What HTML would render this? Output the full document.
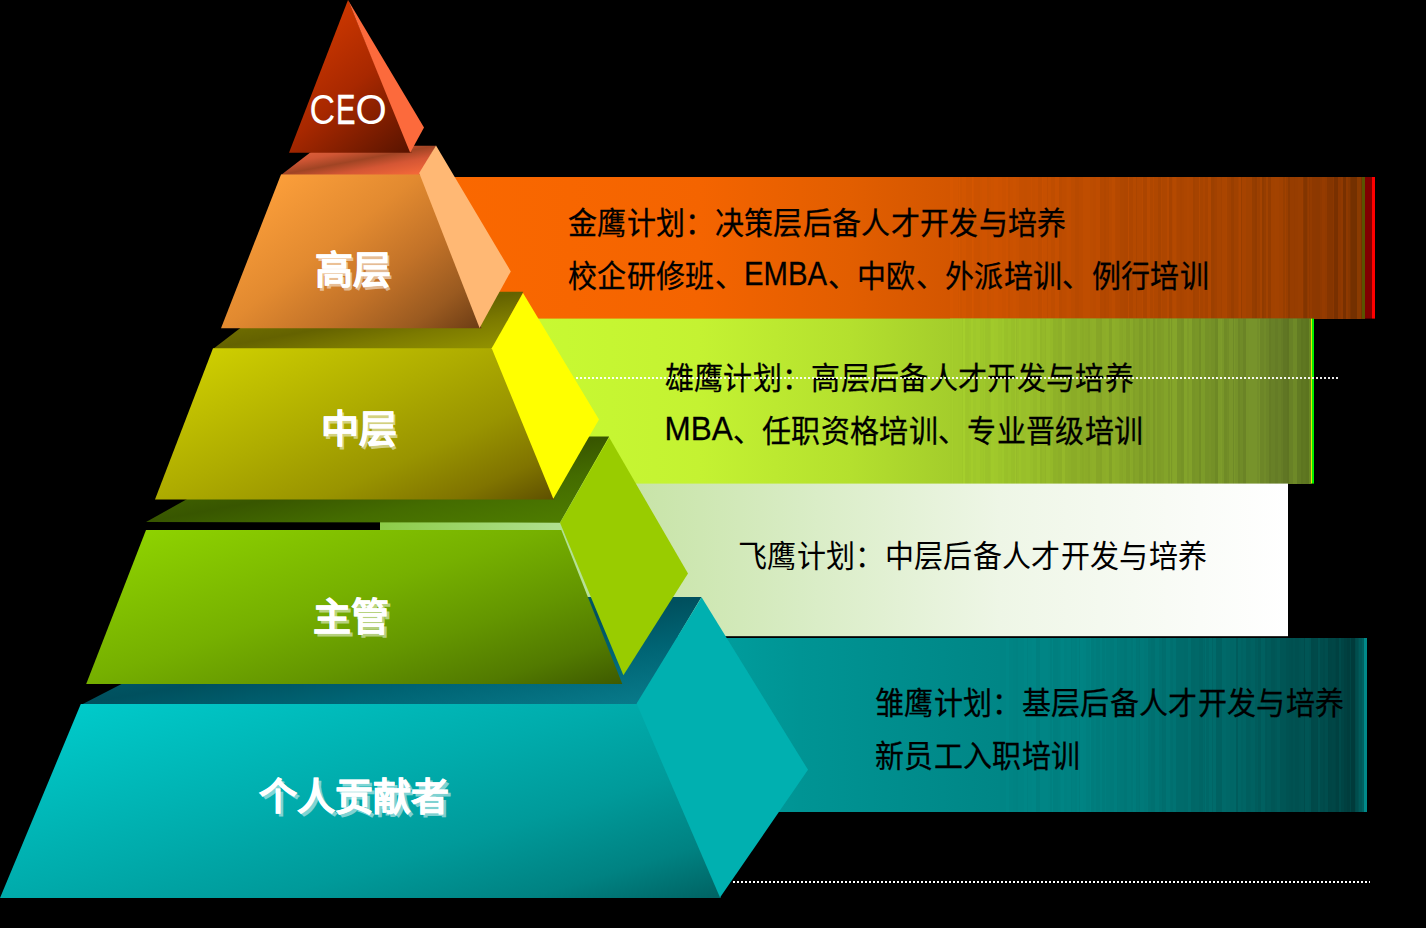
<!DOCTYPE html>
<html lang="zh-CN">
<head>
<meta charset="utf-8">
<style>
html,body{margin:0;padding:0;background:#000;}
body{width:1426px;height:928px;overflow:hidden;position:relative;font-family:"Liberation Sans",sans-serif;}
svg{position:absolute;left:0;top:0;}
.t{position:absolute;white-space:nowrap;color:#000;font-size:29px;line-height:1;letter-spacing:0.34px;-webkit-text-stroke:0.25px #000;transform:scaleY(1.04);transform-origin:0 50%;}
.lo{display:inline-block;position:relative;top:-2px;line-height:0;}
.li{display:inline-block;font-size:31.5px;line-height:0;letter-spacing:0;transform-origin:0 100%;}
.lbl{position:absolute;white-space:nowrap;color:#fff;font-weight:bold;font-size:38px;line-height:1;text-shadow:2.6px 2.6px 0 rgba(255,255,255,0.5);-webkit-text-stroke:0.5px #fff;}
</style>
</head>
<body>
<svg width="1426" height="928" viewBox="0 0 1426 928">
<defs>
<linearGradient id="gOr" gradientUnits="userSpaceOnUse" x1="440" y1="0" x2="1375" y2="0"><stop offset="0.0000" stop-color="#fa6800"/><stop offset="0.2781" stop-color="#f46400"/><stop offset="0.4385" stop-color="#e25e00"/><stop offset="0.5989" stop-color="#cc5200"/><stop offset="0.7059" stop-color="#b84a00"/><stop offset="0.8128" stop-color="#a84400"/><stop offset="0.8984" stop-color="#983e00"/><stop offset="0.9626" stop-color="#843400"/><stop offset="0.9861" stop-color="#7a3400"/></linearGradient>
<linearGradient id="gGr" gradientUnits="userSpaceOnUse" x1="520" y1="0" x2="1314" y2="0"><stop offset="0.0000" stop-color="#c8fa32"/><stop offset="0.2267" stop-color="#c4f232"/><stop offset="0.4156" stop-color="#b4e02e"/><stop offset="0.6045" stop-color="#9cc42a"/><stop offset="0.7305" stop-color="#8aaa28"/><stop offset="0.8564" stop-color="#7a9828"/><stop offset="0.9572" stop-color="#6a8228"/><stop offset="0.9962" stop-color="#607a20"/></linearGradient>
<linearGradient id="gWh" gradientUnits="userSpaceOnUse" x1="380" y1="0" x2="1288" y2="0"><stop offset="0.0000" stop-color="#8ccc48"/><stop offset="0.1982" stop-color="#b0e090"/><stop offset="0.2863" stop-color="#c8e4a8"/><stop offset="0.4626" stop-color="#d8ecc4"/><stop offset="0.6828" stop-color="#eef6e6"/><stop offset="0.9031" stop-color="#fafcf8"/><stop offset="1.0000" stop-color="#ffffff"/></linearGradient>
<linearGradient id="gTe" gradientUnits="userSpaceOnUse" x1="620" y1="0" x2="1367" y2="0"><stop offset="0.0000" stop-color="#00a8a8"/><stop offset="0.2410" stop-color="#009494"/><stop offset="0.5087" stop-color="#008686"/><stop offset="0.6426" stop-color="#007e7e"/><stop offset="0.7764" stop-color="#006a6a"/><stop offset="0.8835" stop-color="#005858"/><stop offset="0.9639" stop-color="#004646"/><stop offset="0.9826" stop-color="#004040"/><stop offset="0.9933" stop-color="#005c5c"/></linearGradient>
<linearGradient id="gCeo" gradientUnits="userSpaceOnUse" x1="300" y1="20" x2="410" y2="150"><stop offset="0" stop-color="#d23a00"/><stop offset="0.5" stop-color="#a82800"/><stop offset="1" stop-color="#5a1400"/></linearGradient>
<linearGradient id="gT1" gradientUnits="userSpaceOnUse" x1="353.89" y1="135.31" x2="363.11" y2="184.89"><stop offset="0" stop-color="#ea6640"/><stop offset="0.3" stop-color="#d05634"/><stop offset="0.5" stop-color="#a04424"/><stop offset="0.7" stop-color="#d45634"/><stop offset="1" stop-color="#f66a3a"/></linearGradient>
<linearGradient id="gT2" gradientUnits="userSpaceOnUse" x1="359.1" y1="270.69" x2="377.2" y2="369.51"><stop offset="0" stop-color="#7e7c00"/><stop offset="0.3" stop-color="#706e00"/><stop offset="0.5" stop-color="#646200"/><stop offset="0.72" stop-color="#7c7a00"/><stop offset="1" stop-color="#929200"/></linearGradient>
<linearGradient id="gT3" gradientUnits="userSpaceOnUse" x1="363.85" y1="405.32" x2="391.15" y2="553.18"><stop offset="0" stop-color="#4c7400"/><stop offset="0.3" stop-color="#426400"/><stop offset="0.5" stop-color="#385600"/><stop offset="0.72" stop-color="#446c00"/><stop offset="1" stop-color="#4e7c00"/></linearGradient>
<linearGradient id="gT4" gradientUnits="userSpaceOnUse" x1="375.1" y1="557.39" x2="407.2" y2="743.61"><stop offset="0" stop-color="#006876"/><stop offset="0.3" stop-color="#005c6a"/><stop offset="0.5" stop-color="#00505e"/><stop offset="0.72" stop-color="#006474"/><stop offset="1" stop-color="#087a8a"/></linearGradient>
<linearGradient id="gF1" gradientUnits="userSpaceOnUse" x1="281" y1="174.5" x2="430.28" y2="367.27"><stop offset="0" stop-color="#fb9e3a"/><stop offset="0.35" stop-color="#e28a30"/><stop offset="0.6" stop-color="#c27228"/><stop offset="0.82" stop-color="#9a5a20"/><stop offset="1" stop-color="#6c3c14"/></linearGradient>
<linearGradient id="gF2" gradientUnits="userSpaceOnUse" x1="213" y1="348.2" x2="326.62" y2="601.43"><stop offset="0" stop-color="#cece00"/><stop offset="0.4" stop-color="#aeac00"/><stop offset="0.65" stop-color="#999400"/><stop offset="0.85" stop-color="#807400"/><stop offset="1" stop-color="#5e5000"/></linearGradient>
<linearGradient id="gF3" gradientUnits="userSpaceOnUse" x1="146" y1="530" x2="236.46" y2="809.07"><stop offset="0" stop-color="#8ed200"/><stop offset="0.42" stop-color="#76b000"/><stop offset="0.65" stop-color="#649600"/><stop offset="0.85" stop-color="#527a00"/><stop offset="1" stop-color="#3e5a00"/></linearGradient>
<linearGradient id="gF4" gradientUnits="userSpaceOnUse" x1="80.8" y1="704" x2="188.99" y2="1059.57"><stop offset="0" stop-color="#00caca"/><stop offset="0.42" stop-color="#00acac"/><stop offset="0.65" stop-color="#009a9a"/><stop offset="0.85" stop-color="#008282"/><stop offset="1" stop-color="#006262"/></linearGradient>
</defs>
<rect x="440" y="177" width="925" height="142" fill="url(#gOr)"/>
<rect x="950" y="177" width="3" height="142" fill="#d75700"/>
<rect x="953" y="177" width="4" height="142" fill="#d45600"/>
<rect x="957" y="177" width="1" height="142" fill="#d55600"/>
<rect x="958" y="177" width="1" height="142" fill="#d15500"/>
<rect x="959" y="177" width="1" height="142" fill="#d55700"/>
<rect x="960" y="177" width="2" height="142" fill="#ce5400"/>
<rect x="962" y="177" width="4" height="142" fill="#d15500"/>
<rect x="966" y="177" width="2" height="142" fill="#cd5300"/>
<rect x="968" y="177" width="4" height="142" fill="#cd5300"/>
<rect x="972" y="177" width="1" height="142" fill="#d45600"/>
<rect x="973" y="177" width="1" height="142" fill="#d15400"/>
<rect x="974" y="177" width="4" height="142" fill="#cc5200"/>
<rect x="978" y="177" width="2" height="142" fill="#cb5200"/>
<rect x="980" y="177" width="2" height="142" fill="#cd5300"/>
<rect x="982" y="177" width="2" height="142" fill="#cf5300"/>
<rect x="984" y="177" width="3" height="142" fill="#cf5300"/>
<rect x="987" y="177" width="2" height="142" fill="#ca5200"/>
<rect x="989" y="177" width="2" height="142" fill="#cc5200"/>
<rect x="991" y="177" width="1" height="142" fill="#ce5300"/>
<rect x="992" y="177" width="2" height="142" fill="#cd5300"/>
<rect x="994" y="177" width="4" height="142" fill="#cf5300"/>
<rect x="998" y="177" width="4" height="142" fill="#cd5200"/>
<rect x="1002" y="177" width="4" height="142" fill="#ca5100"/>
<rect x="1006" y="177" width="2" height="142" fill="#cd5200"/>
<rect x="1008" y="177" width="2" height="142" fill="#c65000"/>
<rect x="1010" y="177" width="3" height="142" fill="#ca5100"/>
<rect x="1013" y="177" width="3" height="142" fill="#cb5200"/>
<rect x="1016" y="177" width="3" height="142" fill="#c95100"/>
<rect x="1019" y="177" width="1" height="142" fill="#c54f00"/>
<rect x="1020" y="177" width="4" height="142" fill="#c54f00"/>
<rect x="1024" y="177" width="3" height="142" fill="#c44f00"/>
<rect x="1027" y="177" width="4" height="142" fill="#c54f00"/>
<rect x="1031" y="177" width="1" height="142" fill="#c85000"/>
<rect x="1032" y="177" width="3" height="142" fill="#c44f00"/>
<rect x="1035" y="177" width="3" height="142" fill="#c64f00"/>
<rect x="1038" y="177" width="4" height="142" fill="#c04d00"/>
<rect x="1042" y="177" width="1" height="142" fill="#c85000"/>
<rect x="1043" y="177" width="4" height="142" fill="#c54f00"/>
<rect x="1047" y="177" width="1" height="142" fill="#be4c00"/>
<rect x="1048" y="177" width="3" height="142" fill="#c44f00"/>
<rect x="1051" y="177" width="4" height="142" fill="#bf4d00"/>
<rect x="1055" y="177" width="4" height="142" fill="#c54f00"/>
<rect x="1059" y="177" width="3" height="142" fill="#bb4b00"/>
<rect x="1062" y="177" width="4" height="142" fill="#be4c00"/>
<rect x="1066" y="177" width="1" height="142" fill="#bf4d00"/>
<rect x="1067" y="177" width="2" height="142" fill="#c14e00"/>
<rect x="1069" y="177" width="2" height="142" fill="#c14d00"/>
<rect x="1071" y="177" width="4" height="142" fill="#bc4c00"/>
<rect x="1075" y="177" width="4" height="142" fill="#b84a00"/>
<rect x="1079" y="177" width="4" height="142" fill="#bb4b00"/>
<rect x="1083" y="177" width="3" height="142" fill="#bf4d00"/>
<rect x="1086" y="177" width="4" height="142" fill="#bf4d00"/>
<rect x="1090" y="177" width="3" height="142" fill="#bc4c00"/>
<rect x="1093" y="177" width="3" height="142" fill="#bb4b00"/>
<rect x="1096" y="177" width="4" height="142" fill="#be4c00"/>
<rect x="1100" y="177" width="2" height="142" fill="#b34800"/>
<rect x="1102" y="177" width="2" height="142" fill="#b44800"/>
<rect x="1104" y="177" width="2" height="142" fill="#b14700"/>
<rect x="1106" y="177" width="2" height="142" fill="#b44800"/>
<rect x="1108" y="177" width="1" height="142" fill="#b24800"/>
<rect x="1109" y="177" width="3" height="142" fill="#b84a00"/>
<rect x="1112" y="177" width="3" height="142" fill="#bc4c00"/>
<rect x="1115" y="177" width="1" height="142" fill="#b54900"/>
<rect x="1116" y="177" width="4" height="142" fill="#b44800"/>
<rect x="1120" y="177" width="4" height="142" fill="#af4700"/>
<rect x="1124" y="177" width="4" height="142" fill="#ae4600"/>
<rect x="1128" y="177" width="1" height="142" fill="#ba4b00"/>
<rect x="1129" y="177" width="4" height="142" fill="#ae4600"/>
<rect x="1133" y="177" width="3" height="142" fill="#b44900"/>
<rect x="1136" y="177" width="1" height="142" fill="#ab4500"/>
<rect x="1137" y="177" width="2" height="142" fill="#b24800"/>
<rect x="1139" y="177" width="3" height="142" fill="#b34800"/>
<rect x="1142" y="177" width="1" height="142" fill="#b74a00"/>
<rect x="1143" y="177" width="4" height="142" fill="#ac4500"/>
<rect x="1147" y="177" width="3" height="142" fill="#b74a00"/>
<rect x="1150" y="177" width="3" height="142" fill="#af4700"/>
<rect x="1153" y="177" width="1" height="142" fill="#b54900"/>
<rect x="1154" y="177" width="4" height="142" fill="#af4700"/>
<rect x="1158" y="177" width="3" height="142" fill="#a84400"/>
<rect x="1161" y="177" width="1" height="142" fill="#b24800"/>
<rect x="1162" y="177" width="3" height="142" fill="#ad4600"/>
<rect x="1165" y="177" width="2" height="142" fill="#ae4600"/>
<rect x="1167" y="177" width="2" height="142" fill="#b54900"/>
<rect x="1169" y="177" width="3" height="142" fill="#a74300"/>
<rect x="1172" y="177" width="1" height="142" fill="#b14700"/>
<rect x="1173" y="177" width="3" height="142" fill="#b44900"/>
<rect x="1176" y="177" width="1" height="142" fill="#af4700"/>
<rect x="1177" y="177" width="3" height="142" fill="#ac4500"/>
<rect x="1180" y="177" width="2" height="142" fill="#a94400"/>
<rect x="1182" y="177" width="2" height="142" fill="#ab4500"/>
<rect x="1184" y="177" width="3" height="142" fill="#ad4600"/>
<rect x="1187" y="177" width="2" height="142" fill="#af4700"/>
<rect x="1189" y="177" width="4" height="142" fill="#ae4600"/>
<rect x="1193" y="177" width="2" height="142" fill="#a34200"/>
<rect x="1195" y="177" width="4" height="142" fill="#a64300"/>
<rect x="1199" y="177" width="1" height="142" fill="#b14800"/>
<rect x="1200" y="177" width="3" height="142" fill="#a74400"/>
<rect x="1203" y="177" width="2" height="142" fill="#ab4500"/>
<rect x="1205" y="177" width="3" height="142" fill="#a64300"/>
<rect x="1208" y="177" width="3" height="142" fill="#af4700"/>
<rect x="1211" y="177" width="3" height="142" fill="#9d4000"/>
<rect x="1214" y="177" width="1" height="142" fill="#a04100"/>
<rect x="1215" y="177" width="2" height="142" fill="#a24100"/>
<rect x="1217" y="177" width="4" height="142" fill="#a74400"/>
<rect x="1221" y="177" width="1" height="142" fill="#a34200"/>
<rect x="1222" y="177" width="3" height="142" fill="#aa4500"/>
<rect x="1225" y="177" width="1" height="142" fill="#aa4500"/>
<rect x="1226" y="177" width="1" height="142" fill="#ab4600"/>
<rect x="1227" y="177" width="2" height="142" fill="#a24200"/>
<rect x="1229" y="177" width="2" height="142" fill="#a14100"/>
<rect x="1231" y="177" width="3" height="142" fill="#993e00"/>
<rect x="1234" y="177" width="4" height="142" fill="#a04100"/>
<rect x="1238" y="177" width="1" height="142" fill="#a54300"/>
<rect x="1239" y="177" width="2" height="142" fill="#ab4500"/>
<rect x="1241" y="177" width="1" height="142" fill="#983e00"/>
<rect x="1242" y="177" width="4" height="142" fill="#a64300"/>
<rect x="1246" y="177" width="2" height="142" fill="#a14200"/>
<rect x="1248" y="177" width="4" height="142" fill="#a24200"/>
<rect x="1252" y="177" width="3" height="142" fill="#953d00"/>
<rect x="1255" y="177" width="2" height="142" fill="#923b00"/>
<rect x="1257" y="177" width="1" height="142" fill="#9d4000"/>
<rect x="1258" y="177" width="2" height="142" fill="#9b3f00"/>
<rect x="1260" y="177" width="2" height="142" fill="#a44300"/>
<rect x="1262" y="177" width="2" height="142" fill="#903b00"/>
<rect x="1264" y="177" width="2" height="142" fill="#963d00"/>
<rect x="1266" y="177" width="2" height="142" fill="#a14200"/>
<rect x="1268" y="177" width="3" height="142" fill="#943c00"/>
<rect x="1271" y="177" width="4" height="142" fill="#a24200"/>
<rect x="1275" y="177" width="1" height="142" fill="#a34300"/>
<rect x="1276" y="177" width="3" height="142" fill="#a34200"/>
<rect x="1279" y="177" width="4" height="142" fill="#a04100"/>
<rect x="1283" y="177" width="2" height="142" fill="#973e00"/>
<rect x="1285" y="177" width="1" height="142" fill="#a04100"/>
<rect x="1286" y="177" width="2" height="142" fill="#983e00"/>
<rect x="1288" y="177" width="2" height="142" fill="#8c3900"/>
<rect x="1290" y="177" width="4" height="142" fill="#973d00"/>
<rect x="1294" y="177" width="1" height="142" fill="#953c00"/>
<rect x="1295" y="177" width="3" height="142" fill="#973d00"/>
<rect x="1298" y="177" width="4" height="142" fill="#993e00"/>
<rect x="1302" y="177" width="1" height="142" fill="#9b3e00"/>
<rect x="1303" y="177" width="1" height="142" fill="#893700"/>
<rect x="1304" y="177" width="3" height="142" fill="#833500"/>
<rect x="1307" y="177" width="1" height="142" fill="#8f3a00"/>
<rect x="1308" y="177" width="1" height="142" fill="#963c00"/>
<rect x="1309" y="177" width="1" height="142" fill="#8d3800"/>
<rect x="1310" y="177" width="2" height="142" fill="#933b00"/>
<rect x="1312" y="177" width="4" height="142" fill="#8d3800"/>
<rect x="1316" y="177" width="4" height="142" fill="#8c3800"/>
<rect x="1320" y="177" width="2" height="142" fill="#903900"/>
<rect x="1322" y="177" width="3" height="142" fill="#953b00"/>
<rect x="1325" y="177" width="2" height="142" fill="#923a00"/>
<rect x="1327" y="177" width="2" height="142" fill="#863500"/>
<rect x="1329" y="177" width="4" height="142" fill="#853500"/>
<rect x="1333" y="177" width="1" height="142" fill="#8b3700"/>
<rect x="1334" y="177" width="4" height="142" fill="#793000"/>
<rect x="1338" y="177" width="3" height="142" fill="#8c3700"/>
<rect x="1341" y="177" width="2" height="142" fill="#903900"/>
<rect x="1343" y="177" width="3" height="142" fill="#783000"/>
<rect x="1346" y="177" width="2" height="142" fill="#8e3900"/>
<rect x="1348" y="177" width="2" height="142" fill="#873700"/>
<rect x="1350" y="177" width="1" height="142" fill="#7c3300"/>
<rect x="1351" y="177" width="4" height="142" fill="#743000"/>
<rect x="1355" y="177" width="2" height="142" fill="#733000"/>
<rect x="1357" y="177" width="4" height="142" fill="#8a3a00"/>
<rect x="1361" y="177" width="1" height="142" fill="#763200"/>
<rect x="1362" y="177" width="3" height="141.6" fill="#5a5400"/>
<rect x="1365" y="177" width="7" height="141.6" fill="#800000"/>
<rect x="1372" y="177" width="3" height="141.6" fill="#ff0000"/>
<rect x="520" y="318.6" width="791" height="165.4" fill="url(#gGr)"/>
<rect x="950" y="318.6" width="2" height="165.4" fill="#a3cc2b"/>
<rect x="952" y="318.6" width="1" height="165.4" fill="#a5cf2c"/>
<rect x="953" y="318.6" width="1" height="165.4" fill="#a2cb2b"/>
<rect x="954" y="318.6" width="4" height="165.4" fill="#a3cc2b"/>
<rect x="958" y="318.6" width="1" height="165.4" fill="#a2cb2b"/>
<rect x="959" y="318.6" width="3" height="165.4" fill="#a2cb2b"/>
<rect x="962" y="318.6" width="1" height="165.4" fill="#9fc82a"/>
<rect x="963" y="318.6" width="2" height="165.4" fill="#a5cf2c"/>
<rect x="965" y="318.6" width="1" height="165.4" fill="#9fc72a"/>
<rect x="966" y="318.6" width="3" height="165.4" fill="#9ec62a"/>
<rect x="969" y="318.6" width="2" height="165.4" fill="#9fc82a"/>
<rect x="971" y="318.6" width="2" height="165.4" fill="#a3cc2b"/>
<rect x="973" y="318.6" width="3" height="165.4" fill="#9fc82b"/>
<rect x="976" y="318.6" width="4" height="165.4" fill="#a1ca2b"/>
<rect x="980" y="318.6" width="1" height="165.4" fill="#9ec62a"/>
<rect x="981" y="318.6" width="2" height="165.4" fill="#9ec72a"/>
<rect x="983" y="318.6" width="1" height="165.4" fill="#9dc52a"/>
<rect x="984" y="318.6" width="1" height="165.4" fill="#9fc82b"/>
<rect x="985" y="318.6" width="3" height="165.4" fill="#9bc32a"/>
<rect x="988" y="318.6" width="2" height="165.4" fill="#9bc22a"/>
<rect x="990" y="318.6" width="1" height="165.4" fill="#9dc52a"/>
<rect x="991" y="318.6" width="3" height="165.4" fill="#a1ca2b"/>
<rect x="994" y="318.6" width="4" height="165.4" fill="#a0c82b"/>
<rect x="998" y="318.6" width="3" height="165.4" fill="#9dc52a"/>
<rect x="1001" y="318.6" width="1" height="165.4" fill="#9cc42a"/>
<rect x="1002" y="318.6" width="2" height="165.4" fill="#9ec72b"/>
<rect x="1004" y="318.6" width="2" height="165.4" fill="#99c129"/>
<rect x="1006" y="318.6" width="2" height="165.4" fill="#99c029"/>
<rect x="1008" y="318.6" width="3" height="165.4" fill="#9bc32a"/>
<rect x="1011" y="318.6" width="2" height="165.4" fill="#98bf29"/>
<rect x="1013" y="318.6" width="2" height="165.4" fill="#98be29"/>
<rect x="1015" y="318.6" width="1" height="165.4" fill="#9dc42b"/>
<rect x="1016" y="318.6" width="1" height="165.4" fill="#96bb29"/>
<rect x="1017" y="318.6" width="2" height="165.4" fill="#99bf2a"/>
<rect x="1019" y="318.6" width="2" height="165.4" fill="#9cc32a"/>
<rect x="1021" y="318.6" width="1" height="165.4" fill="#99c02a"/>
<rect x="1022" y="318.6" width="4" height="165.4" fill="#99bf2a"/>
<rect x="1026" y="318.6" width="4" height="165.4" fill="#9ac12a"/>
<rect x="1030" y="318.6" width="3" height="165.4" fill="#98be2a"/>
<rect x="1033" y="318.6" width="2" height="165.4" fill="#95ba29"/>
<rect x="1035" y="318.6" width="2" height="165.4" fill="#95ba29"/>
<rect x="1037" y="318.6" width="3" height="165.4" fill="#99bf2a"/>
<rect x="1040" y="318.6" width="2" height="165.4" fill="#91b528"/>
<rect x="1042" y="318.6" width="3" height="165.4" fill="#94b829"/>
<rect x="1045" y="318.6" width="1" height="165.4" fill="#91b428"/>
<rect x="1046" y="318.6" width="4" height="165.4" fill="#96bb2a"/>
<rect x="1050" y="318.6" width="3" height="165.4" fill="#94b829"/>
<rect x="1053" y="318.6" width="3" height="165.4" fill="#8eb128"/>
<rect x="1056" y="318.6" width="2" height="165.4" fill="#8fb228"/>
<rect x="1058" y="318.6" width="4" height="165.4" fill="#8daf28"/>
<rect x="1062" y="318.6" width="3" height="165.4" fill="#95b82a"/>
<rect x="1065" y="318.6" width="3" height="165.4" fill="#8eb028"/>
<rect x="1068" y="318.6" width="3" height="165.4" fill="#8daf28"/>
<rect x="1071" y="318.6" width="2" height="165.4" fill="#8bac27"/>
<rect x="1073" y="318.6" width="4" height="165.4" fill="#8bac27"/>
<rect x="1077" y="318.6" width="3" height="165.4" fill="#8eb028"/>
<rect x="1080" y="318.6" width="2" height="165.4" fill="#8bac28"/>
<rect x="1082" y="318.6" width="1" height="165.4" fill="#89aa27"/>
<rect x="1083" y="318.6" width="1" height="165.4" fill="#8aaa27"/>
<rect x="1084" y="318.6" width="1" height="165.4" fill="#8cad28"/>
<rect x="1085" y="318.6" width="3" height="165.4" fill="#8bab28"/>
<rect x="1088" y="318.6" width="2" height="165.4" fill="#88a827"/>
<rect x="1090" y="318.6" width="2" height="165.4" fill="#8dae29"/>
<rect x="1092" y="318.6" width="4" height="165.4" fill="#8eaf29"/>
<rect x="1096" y="318.6" width="4" height="165.4" fill="#87a627"/>
<rect x="1100" y="318.6" width="2" height="165.4" fill="#85a427"/>
<rect x="1102" y="318.6" width="4" height="165.4" fill="#8cac29"/>
<rect x="1106" y="318.6" width="2" height="165.4" fill="#8dae29"/>
<rect x="1108" y="318.6" width="1" height="165.4" fill="#8cad29"/>
<rect x="1109" y="318.6" width="2" height="165.4" fill="#84a327"/>
<rect x="1111" y="318.6" width="1" height="165.4" fill="#84a327"/>
<rect x="1112" y="318.6" width="3" height="165.4" fill="#8dae29"/>
<rect x="1115" y="318.6" width="4" height="165.4" fill="#8bac29"/>
<rect x="1119" y="318.6" width="1" height="165.4" fill="#88a828"/>
<rect x="1120" y="318.6" width="2" height="165.4" fill="#87a628"/>
<rect x="1122" y="318.6" width="1" height="165.4" fill="#86a528"/>
<rect x="1123" y="318.6" width="1" height="165.4" fill="#89a929"/>
<rect x="1124" y="318.6" width="1" height="165.4" fill="#88a829"/>
<rect x="1125" y="318.6" width="1" height="165.4" fill="#89a929"/>
<rect x="1126" y="318.6" width="4" height="165.4" fill="#83a127"/>
<rect x="1130" y="318.6" width="1" height="165.4" fill="#89aa29"/>
<rect x="1131" y="318.6" width="2" height="165.4" fill="#88a829"/>
<rect x="1133" y="318.6" width="2" height="165.4" fill="#81a027"/>
<rect x="1135" y="318.6" width="4" height="165.4" fill="#84a328"/>
<rect x="1139" y="318.6" width="4" height="165.4" fill="#7e9c26"/>
<rect x="1143" y="318.6" width="3" height="165.4" fill="#86a629"/>
<rect x="1146" y="318.6" width="2" height="165.4" fill="#7d9b26"/>
<rect x="1148" y="318.6" width="2" height="165.4" fill="#809e27"/>
<rect x="1150" y="318.6" width="3" height="165.4" fill="#83a328"/>
<rect x="1153" y="318.6" width="2" height="165.4" fill="#7b9826"/>
<rect x="1155" y="318.6" width="1" height="165.4" fill="#81a028"/>
<rect x="1156" y="318.6" width="1" height="165.4" fill="#84a329"/>
<rect x="1157" y="318.6" width="4" height="165.4" fill="#7e9c27"/>
<rect x="1161" y="318.6" width="3" height="165.4" fill="#809e28"/>
<rect x="1164" y="318.6" width="4" height="165.4" fill="#83a329"/>
<rect x="1168" y="318.6" width="2" height="165.4" fill="#7c9a27"/>
<rect x="1170" y="318.6" width="1" height="165.4" fill="#85a52a"/>
<rect x="1171" y="318.6" width="1" height="165.4" fill="#7b9927"/>
<rect x="1172" y="318.6" width="1" height="165.4" fill="#83a329"/>
<rect x="1173" y="318.6" width="4" height="165.4" fill="#85a52a"/>
<rect x="1177" y="318.6" width="4" height="165.4" fill="#799627"/>
<rect x="1181" y="318.6" width="2" height="165.4" fill="#769326"/>
<rect x="1183" y="318.6" width="1" height="165.4" fill="#779426"/>
<rect x="1184" y="318.6" width="3" height="165.4" fill="#83a32a"/>
<rect x="1187" y="318.6" width="2" height="165.4" fill="#7e9c29"/>
<rect x="1189" y="318.6" width="3" height="165.4" fill="#82a12a"/>
<rect x="1192" y="318.6" width="3" height="165.4" fill="#779427"/>
<rect x="1195" y="318.6" width="4" height="165.4" fill="#799627"/>
<rect x="1199" y="318.6" width="2" height="165.4" fill="#728e25"/>
<rect x="1201" y="318.6" width="4" height="165.4" fill="#7c9b29"/>
<rect x="1205" y="318.6" width="4" height="165.4" fill="#759227"/>
<rect x="1209" y="318.6" width="2" height="165.4" fill="#779328"/>
<rect x="1211" y="318.6" width="4" height="165.4" fill="#749027"/>
<rect x="1215" y="318.6" width="3" height="165.4" fill="#6e8925"/>
<rect x="1218" y="318.6" width="3" height="165.4" fill="#7c9a2a"/>
<rect x="1221" y="318.6" width="1" height="165.4" fill="#7e9c2b"/>
<rect x="1222" y="318.6" width="2" height="165.4" fill="#799629"/>
<rect x="1224" y="318.6" width="3" height="165.4" fill="#708b26"/>
<rect x="1227" y="318.6" width="1" height="165.4" fill="#738e27"/>
<rect x="1228" y="318.6" width="1" height="165.4" fill="#728d27"/>
<rect x="1229" y="318.6" width="4" height="165.4" fill="#79952a"/>
<rect x="1233" y="318.6" width="1" height="165.4" fill="#6f8a27"/>
<rect x="1234" y="318.6" width="1" height="165.4" fill="#79962a"/>
<rect x="1235" y="318.6" width="3" height="165.4" fill="#759129"/>
<rect x="1238" y="318.6" width="2" height="165.4" fill="#6d8726"/>
<rect x="1240" y="318.6" width="3" height="165.4" fill="#708b28"/>
<rect x="1243" y="318.6" width="3" height="165.4" fill="#6b8426"/>
<rect x="1246" y="318.6" width="3" height="165.4" fill="#76922a"/>
<rect x="1249" y="318.6" width="4" height="165.4" fill="#77932b"/>
<rect x="1253" y="318.6" width="4" height="165.4" fill="#77932b"/>
<rect x="1257" y="318.6" width="2" height="165.4" fill="#738e2a"/>
<rect x="1259" y="318.6" width="1" height="165.4" fill="#77932b"/>
<rect x="1260" y="318.6" width="4" height="165.4" fill="#6d8628"/>
<rect x="1264" y="318.6" width="2" height="165.4" fill="#708a29"/>
<rect x="1266" y="318.6" width="3" height="165.4" fill="#6c8528"/>
<rect x="1269" y="318.6" width="2" height="165.4" fill="#657c25"/>
<rect x="1271" y="318.6" width="4" height="165.4" fill="#688027"/>
<rect x="1275" y="318.6" width="3" height="165.4" fill="#657c26"/>
<rect x="1278" y="318.6" width="3" height="165.4" fill="#688027"/>
<rect x="1281" y="318.6" width="2" height="165.4" fill="#657c26"/>
<rect x="1283" y="318.6" width="4" height="165.4" fill="#607624"/>
<rect x="1287" y="318.6" width="2" height="165.4" fill="#5e7422"/>
<rect x="1289" y="318.6" width="4" height="165.4" fill="#688126"/>
<rect x="1293" y="318.6" width="4" height="165.4" fill="#6e8927"/>
<rect x="1297" y="318.6" width="4" height="165.4" fill="#627b23"/>
<rect x="1301" y="318.6" width="2" height="165.4" fill="#5d7520"/>
<rect x="1303" y="318.6" width="2" height="165.4" fill="#5f7721"/>
<rect x="1305" y="318.6" width="1" height="165.4" fill="#5e7620"/>
<rect x="1306" y="318.6" width="3" height="165.4" fill="#5c741f"/>
<rect x="1309" y="318.6" width="2" height="165.4" fill="#698623"/>
<rect x="1311" y="318.6" width="1" height="165" fill="#e0f000"/>
<rect x="1312" y="318.6" width="2" height="165" fill="#00f000"/>
<rect x="380" y="483.6" width="908" height="153" fill="url(#gWh)"/>
<rect x="380" y="636.3" width="908" height="1.2" fill="#000"/>
<rect x="620" y="638" width="747" height="174" fill="url(#gTe)"/>
<rect x="1000" y="638" width="4" height="174" fill="#008585"/>
<rect x="1004" y="638" width="2" height="174" fill="#008585"/>
<rect x="1006" y="638" width="3" height="174" fill="#008787"/>
<rect x="1009" y="638" width="4" height="174" fill="#008484"/>
<rect x="1013" y="638" width="3" height="174" fill="#008383"/>
<rect x="1016" y="638" width="2" height="174" fill="#008282"/>
<rect x="1018" y="638" width="2" height="174" fill="#008484"/>
<rect x="1020" y="638" width="4" height="174" fill="#008484"/>
<rect x="1024" y="638" width="3" height="174" fill="#008686"/>
<rect x="1027" y="638" width="1" height="174" fill="#008282"/>
<rect x="1028" y="638" width="4" height="174" fill="#008585"/>
<rect x="1032" y="638" width="4" height="174" fill="#008686"/>
<rect x="1036" y="638" width="4" height="174" fill="#008080"/>
<rect x="1040" y="638" width="4" height="174" fill="#008585"/>
<rect x="1044" y="638" width="4" height="174" fill="#008585"/>
<rect x="1048" y="638" width="2" height="174" fill="#008484"/>
<rect x="1050" y="638" width="2" height="174" fill="#008080"/>
<rect x="1052" y="638" width="1" height="174" fill="#008484"/>
<rect x="1053" y="638" width="4" height="174" fill="#007f7f"/>
<rect x="1057" y="638" width="1" height="174" fill="#007f7f"/>
<rect x="1058" y="638" width="2" height="174" fill="#008080"/>
<rect x="1060" y="638" width="1" height="174" fill="#008282"/>
<rect x="1061" y="638" width="3" height="174" fill="#008484"/>
<rect x="1064" y="638" width="3" height="174" fill="#008181"/>
<rect x="1067" y="638" width="4" height="174" fill="#008282"/>
<rect x="1071" y="638" width="1" height="174" fill="#007e7e"/>
<rect x="1072" y="638" width="3" height="174" fill="#008080"/>
<rect x="1075" y="638" width="2" height="174" fill="#007f7f"/>
<rect x="1077" y="638" width="2" height="174" fill="#008282"/>
<rect x="1079" y="638" width="1" height="174" fill="#007d7d"/>
<rect x="1080" y="638" width="3" height="174" fill="#008383"/>
<rect x="1083" y="638" width="3" height="174" fill="#008282"/>
<rect x="1086" y="638" width="2" height="174" fill="#007f7f"/>
<rect x="1088" y="638" width="2" height="174" fill="#007f7f"/>
<rect x="1090" y="638" width="1" height="174" fill="#008282"/>
<rect x="1091" y="638" width="3" height="174" fill="#007c7c"/>
<rect x="1094" y="638" width="2" height="174" fill="#007e7e"/>
<rect x="1096" y="638" width="4" height="174" fill="#007b7b"/>
<rect x="1100" y="638" width="2" height="174" fill="#007f7f"/>
<rect x="1102" y="638" width="3" height="174" fill="#007b7b"/>
<rect x="1105" y="638" width="1" height="174" fill="#007e7e"/>
<rect x="1106" y="638" width="4" height="174" fill="#007b7b"/>
<rect x="1110" y="638" width="4" height="174" fill="#007a7a"/>
<rect x="1114" y="638" width="3" height="174" fill="#007d7d"/>
<rect x="1117" y="638" width="1" height="174" fill="#007878"/>
<rect x="1118" y="638" width="2" height="174" fill="#007979"/>
<rect x="1120" y="638" width="2" height="174" fill="#007878"/>
<rect x="1122" y="638" width="2" height="174" fill="#007878"/>
<rect x="1124" y="638" width="3" height="174" fill="#007676"/>
<rect x="1127" y="638" width="4" height="174" fill="#007979"/>
<rect x="1131" y="638" width="2" height="174" fill="#007777"/>
<rect x="1133" y="638" width="1" height="174" fill="#007b7b"/>
<rect x="1134" y="638" width="2" height="174" fill="#007a7a"/>
<rect x="1136" y="638" width="1" height="174" fill="#007575"/>
<rect x="1137" y="638" width="2" height="174" fill="#007676"/>
<rect x="1139" y="638" width="1" height="174" fill="#007474"/>
<rect x="1140" y="638" width="4" height="174" fill="#007979"/>
<rect x="1144" y="638" width="3" height="174" fill="#007777"/>
<rect x="1147" y="638" width="1" height="174" fill="#007878"/>
<rect x="1148" y="638" width="3" height="174" fill="#007272"/>
<rect x="1151" y="638" width="4" height="174" fill="#007070"/>
<rect x="1155" y="638" width="4" height="174" fill="#007575"/>
<rect x="1159" y="638" width="3" height="174" fill="#007171"/>
<rect x="1162" y="638" width="1" height="174" fill="#006d6d"/>
<rect x="1163" y="638" width="3" height="174" fill="#006e6e"/>
<rect x="1166" y="638" width="4" height="174" fill="#007474"/>
<rect x="1170" y="638" width="1" height="174" fill="#007070"/>
<rect x="1171" y="638" width="2" height="174" fill="#006f6f"/>
<rect x="1173" y="638" width="3" height="174" fill="#007272"/>
<rect x="1176" y="638" width="4" height="174" fill="#006b6b"/>
<rect x="1180" y="638" width="4" height="174" fill="#006b6b"/>
<rect x="1184" y="638" width="4" height="174" fill="#006a6a"/>
<rect x="1188" y="638" width="3" height="174" fill="#006e6e"/>
<rect x="1191" y="638" width="4" height="174" fill="#006767"/>
<rect x="1195" y="638" width="4" height="174" fill="#006868"/>
<rect x="1199" y="638" width="4" height="174" fill="#006565"/>
<rect x="1203" y="638" width="1" height="174" fill="#006969"/>
<rect x="1204" y="638" width="1" height="174" fill="#006767"/>
<rect x="1205" y="638" width="1" height="174" fill="#006d6d"/>
<rect x="1206" y="638" width="3" height="174" fill="#006767"/>
<rect x="1209" y="638" width="3" height="174" fill="#006c6c"/>
<rect x="1212" y="638" width="1" height="174" fill="#006565"/>
<rect x="1213" y="638" width="3" height="174" fill="#006b6b"/>
<rect x="1216" y="638" width="3" height="174" fill="#006161"/>
<rect x="1219" y="638" width="1" height="174" fill="#006161"/>
<rect x="1220" y="638" width="2" height="174" fill="#006161"/>
<rect x="1222" y="638" width="4" height="174" fill="#006969"/>
<rect x="1226" y="638" width="4" height="174" fill="#006767"/>
<rect x="1230" y="638" width="4" height="174" fill="#006666"/>
<rect x="1234" y="638" width="2" height="174" fill="#006767"/>
<rect x="1236" y="638" width="2" height="174" fill="#005c5c"/>
<rect x="1238" y="638" width="3" height="174" fill="#006565"/>
<rect x="1241" y="638" width="2" height="174" fill="#006262"/>
<rect x="1243" y="638" width="3" height="174" fill="#006464"/>
<rect x="1246" y="638" width="4" height="174" fill="#005e5e"/>
<rect x="1250" y="638" width="1" height="174" fill="#005f5f"/>
<rect x="1251" y="638" width="4" height="174" fill="#006161"/>
<rect x="1255" y="638" width="2" height="174" fill="#005c5c"/>
<rect x="1257" y="638" width="1" height="174" fill="#005d5d"/>
<rect x="1258" y="638" width="3" height="174" fill="#005959"/>
<rect x="1261" y="638" width="4" height="174" fill="#006060"/>
<rect x="1265" y="638" width="1" height="174" fill="#005959"/>
<rect x="1266" y="638" width="1" height="174" fill="#005858"/>
<rect x="1267" y="638" width="4" height="174" fill="#005a5a"/>
<rect x="1271" y="638" width="4" height="174" fill="#005656"/>
<rect x="1275" y="638" width="2" height="174" fill="#005858"/>
<rect x="1277" y="638" width="2" height="174" fill="#005b5b"/>
<rect x="1279" y="638" width="1" height="174" fill="#005b5b"/>
<rect x="1280" y="638" width="3" height="174" fill="#005555"/>
<rect x="1283" y="638" width="3" height="174" fill="#005555"/>
<rect x="1286" y="638" width="3" height="174" fill="#005252"/>
<rect x="1289" y="638" width="2" height="174" fill="#005151"/>
<rect x="1291" y="638" width="2" height="174" fill="#005050"/>
<rect x="1293" y="638" width="2" height="174" fill="#005252"/>
<rect x="1295" y="638" width="4" height="174" fill="#005050"/>
<rect x="1299" y="638" width="2" height="174" fill="#005252"/>
<rect x="1301" y="638" width="2" height="174" fill="#005353"/>
<rect x="1303" y="638" width="1" height="174" fill="#005353"/>
<rect x="1304" y="638" width="1" height="174" fill="#004c4c"/>
<rect x="1305" y="638" width="4" height="174" fill="#005555"/>
<rect x="1309" y="638" width="2" height="174" fill="#005353"/>
<rect x="1311" y="638" width="3" height="174" fill="#004949"/>
<rect x="1314" y="638" width="3" height="174" fill="#004a4a"/>
<rect x="1317" y="638" width="1" height="174" fill="#004949"/>
<rect x="1318" y="638" width="2" height="174" fill="#005252"/>
<rect x="1320" y="638" width="3" height="174" fill="#004c4c"/>
<rect x="1323" y="638" width="2" height="174" fill="#004a4a"/>
<rect x="1325" y="638" width="3" height="174" fill="#004d4d"/>
<rect x="1328" y="638" width="1" height="174" fill="#004444"/>
<rect x="1329" y="638" width="3" height="174" fill="#004545"/>
<rect x="1332" y="638" width="3" height="174" fill="#004646"/>
<rect x="1335" y="638" width="1" height="174" fill="#004444"/>
<rect x="1336" y="638" width="3" height="174" fill="#004141"/>
<rect x="1339" y="638" width="2" height="174" fill="#004a4a"/>
<rect x="1341" y="638" width="3" height="174" fill="#004444"/>
<rect x="1344" y="638" width="3" height="174" fill="#004040"/>
<rect x="1347" y="638" width="3" height="174" fill="#003d3d"/>
<rect x="1350" y="638" width="1" height="174" fill="#004545"/>
<rect x="1351" y="638" width="4" height="174" fill="#003b3b"/>
<rect x="1355" y="638" width="1" height="174" fill="#004949"/>
<rect x="1356" y="638" width="2" height="174" fill="#004d4d"/>
<rect x="1358" y="638" width="1" height="174" fill="#005252"/>
<rect x="1359" y="638" width="3" height="174" fill="#005a5a"/>
<rect x="1362" y="638" width="2" height="174" fill="#006262"/>
<rect x="1364" y="638" width="3" height="174" fill="#008a8a"/>
<polygon points="80.8,705 637,705 701.5,597 290.5,597" fill="url(#gT4)"/>
<polygon points="80.8,704 638.6,704 721,898 0,898" fill="url(#gF4)"/>
<polygon points="701.6,597.3 808,769.8 720,897.6 636.6,703.6" fill="#00b0b0"/>
<polygon points="146.1,522 560,522.7 609.2,436.5 298.9,436.5" fill="url(#gT3)"/>
<polygon points="146,530 561.3,530 622.3,684 86.2,684" fill="url(#gF3)"/>
<polygon points="609.2,437.6 688,573.5 623.4,675.2 560,522.7" fill="#99cc00"/>
<polygon points="213,349 492.5,349 523.3,291.7 287.7,291.7" fill="url(#gT2)"/>
<polygon points="213,348.2 493.2,348.2 554.6,499.5 155,499.5" fill="url(#gF2)"/>
<polygon points="523,293 599,419.5 553.3,498.8 491.7,348.3" fill="#ffff00"/>
<polygon points="281,175 419.5,175 436,145.7 319,145.7" fill="url(#gT1)"/>
<polygon points="281,174.5 420.6,174.5 481.6,328.3 221,328.3" fill="url(#gF1)"/>
<polygon points="436,145.4 510.8,271.4 479.6,327.9 419.2,173" fill="#ffb874"/>
<polygon points="348,0 411.5,152.7 289,152.7" fill="url(#gCeo)"/>
<polygon points="348,0 424,127.6 410.2,152.7" fill="#fc6a3c"/>
</svg>
<div class="t" style="left:568px;top:210.0px;">金鹰计划：决策层后备人才开发与培养</div>
<div class="t" style="left:568px;top:262.5px;">校企研修班、<span class="lo" style="width:83.5px"><span class="li" style="transform:scaleX(0.93)">EMBA</span></span>、中欧、外派培训、例行培训</div>
<div class="t" style="left:664.5px;top:365.4px;">雄鹰计划：高层后备人才开发与培养</div>
<div class="t" style="left:664.5px;top:417.7px;"><span class="lo" style="width:68px"><span class="li" style="transform:scaleX(1.0)">MBA</span></span>、任职资格培训、专业晋级培训</div>
<div class="t" style="left:738px;top:543.0px;"><span style="-webkit-text-stroke:0">飞鹰计划：中层后备人才开发与培养</span></div>
<div class="t" style="left:875px;top:690.0px;">雏鹰计划：基层后备人才开发与培养</div>
<div class="t" style="left:875px;top:742.7px;">新员工入职培训</div>
<div class="lbl" style="left:314.5px;top:251.2px;">高层</div>
<div class="lbl" style="left:320.5px;top:410.1px;">中层</div>
<div class="lbl" style="left:313px;top:598.0px;">主管</div>
<div class="lbl" style="left:259px;top:778.3px;">个人贡献者</div>
<svg width="1426" height="928" viewBox="0 0 1426 928">
<line x1="576" y1="378" x2="1340" y2="378" stroke="#fff" stroke-opacity="0.92" stroke-width="2" stroke-dasharray="2 2"/>
<line x1="733" y1="882" x2="1370" y2="882" stroke="#fff" stroke-width="2" stroke-dasharray="2 2"/>
<g fill="#fff" font-family="Liberation Sans" font-size="43.2"><text transform="translate(309.4,123.7) scale(0.824,1)">C</text><text transform="translate(335.9,123.7) scale(0.675,1)" stroke="#fff" stroke-width="0.45">E</text><text transform="translate(355.6,123.7) scale(0.930,1)">O</text></g>
</svg>
</body>
</html>
